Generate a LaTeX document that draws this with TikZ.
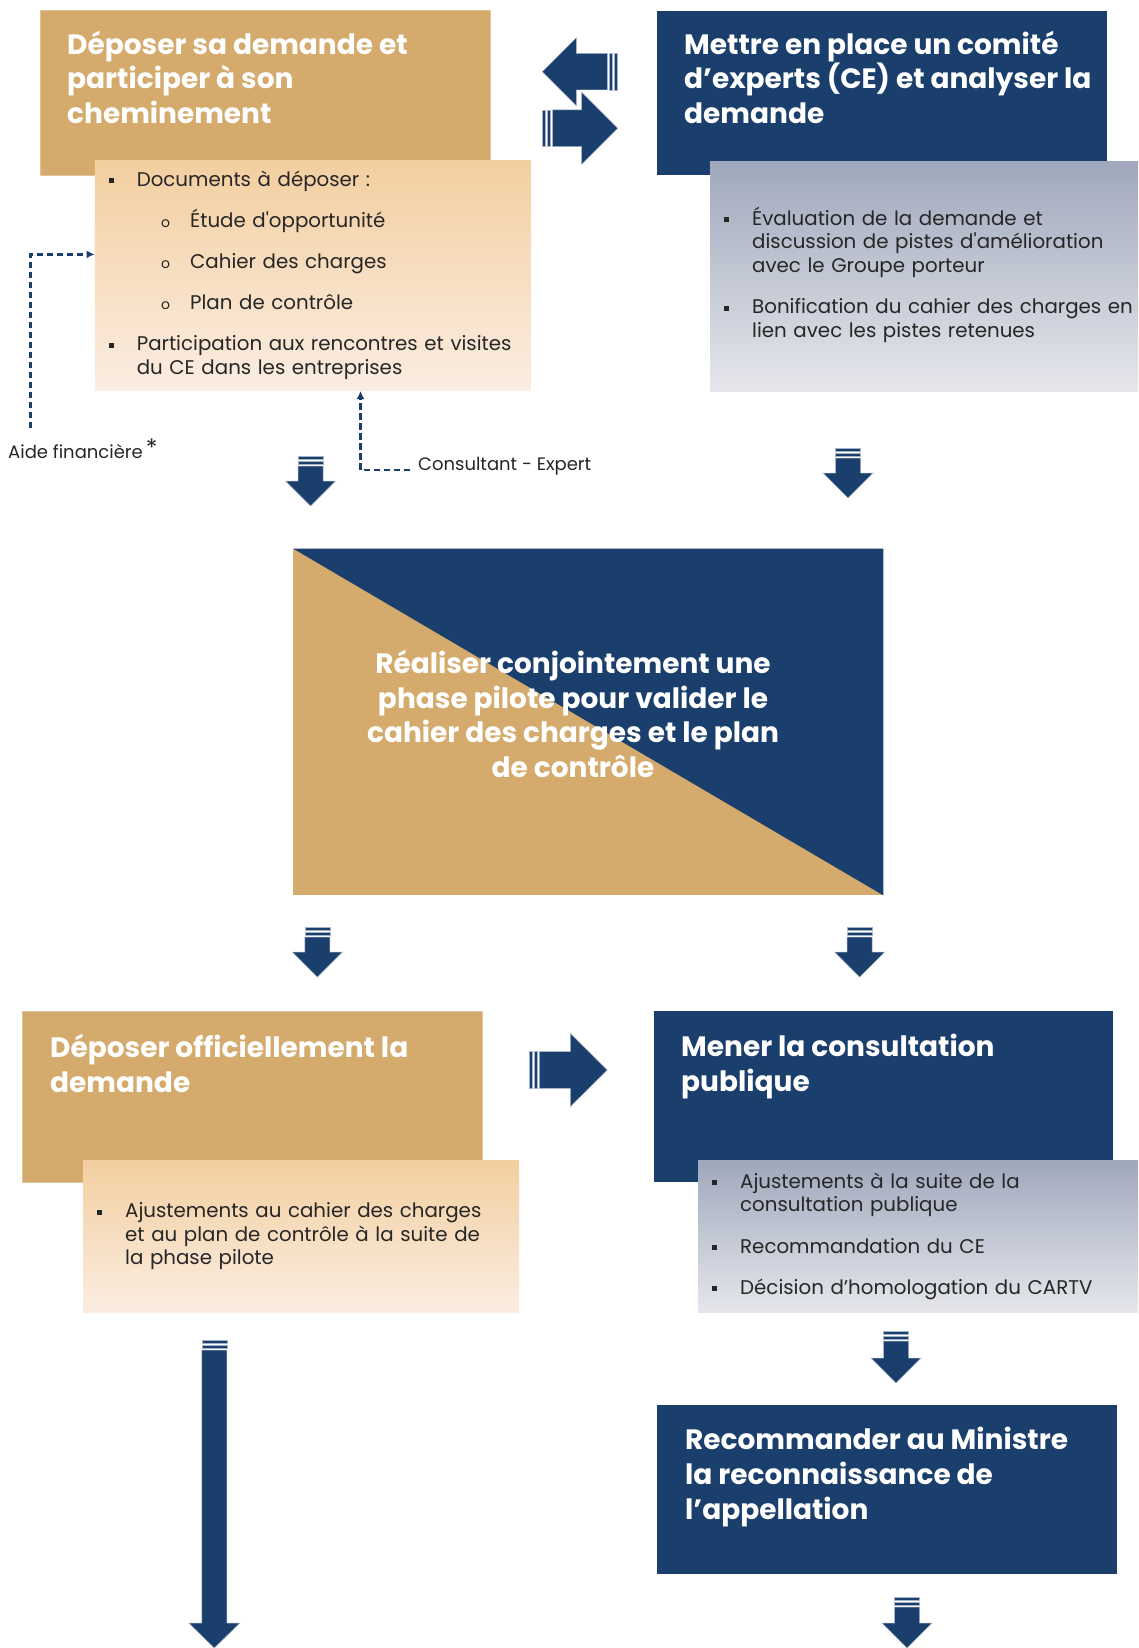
\documentclass[tikz,border=0pt]{standalone}
\usepackage{fontspec}
\setmainfont{Poppins}
\usepackage{enumitem}
\usetikzlibrary{positioning,arrows.meta}

\definecolor{navy}{HTML}{1B3F6D}
\definecolor{tan}{HTML}{D4AA6D}
\definecolor{peachtop}{HTML}{F3CFA0}
\definecolor{peachbot}{HTML}{FBEDE2}
\definecolor{greytop}{HTML}{9FA8BC}
\definecolor{greybot}{HTML}{E6E7EC}
\definecolor{bodytext}{HTML}{262626}

\newcommand{\sqbullet}{\rule[3pt]{5pt}{5pt}}
\newcommand{\circbullet}{{\fontsize{14}{14}\selectfont o}}
\newcommand{\liftlist}{\par\vspace*{9pt}}

\setlist[itemize]{nosep,itemsep=17.5pt,align=left}
\setlist[itemize,1]{label=\sqbullet,leftmargin=30pt,labelwidth=5pt,labelsep=23pt}
\setlist[itemize,2]{label=\circbullet,leftmargin=51.4pt,labelwidth=7pt,labelsep=20pt,topsep=17.5pt}

\tikzset{
  tanbox/.style={fill=tan,draw=tan!70!white,anchor=north west,inner sep=0pt},
  navybox/.style={fill=navy,anchor=north west,inner sep=0pt},
  title/.style={text=white,font=\fontsize{28}{34.7}\selectfont\bfseries,align=left,anchor=north west,inner sep=0pt},
  peachlist/.style={top color=peachtop,bottom color=peachbot,anchor=north west,
    inner xsep=12pt,inner ysep=0pt,align=left,text=bodytext,font=\fontsize{19.8}{23.6}\selectfont},
  greylist/.style={peachlist,top color=greytop,bottom color=greybot},
  note/.style={text=bodytext,font=\fontsize{18}{22}\selectfont,inner sep=0pt,anchor=west},
  link/.style={navy,line width=2.5pt,dash pattern=on 6.5pt off 3.5pt,-{Latex[length=8pt,width=8pt]}},
  pics/stripedarrow/.style n args={4}{code={
    \filldraw[navy,draw=navy!40!white,line width=0.5pt] (0,-#2) rectangle (3,#2);
    \filldraw[navy,draw=navy!40!white,line width=0.5pt] (5,-#2) rectangle (8,#2);
    \filldraw[navy,draw=navy!40!white,line width=0.5pt] (10,-#2) -- ({#1-#4},-#2) -- ({#1-#4},-#3)
      -- (#1,0) -- ({#1-#4},#3) -- ({#1-#4},#2) -- (10,#2) -- cycle;
  }}
}

\begin{document}
\begin{tikzpicture}[x=1pt,y=-1pt]
\useasboundingbox[fill=white] (0,0) rectangle (1138,1648);

% first row
\node[tanbox,minimum width=450pt,minimum height=164.5pt] (depot) at (40,10.5) {};
\node[title] (depottxt) at ([xshift=27pt,yshift=-20pt]depot.north west) {Déposer sa demande et\\participer à son\\cheminement};
\node[peachlist,minimum width=436pt,minimum height=230pt,text width=412pt,below right=-15pt and 54.6pt of depot.south west] (docs) {%
  \begin{itemize}
  \item Documents à déposer :
    \begin{itemize}
    \item Étude d\textquotesingle opportunité
    \item Cahier des charges
    \item Plan de contrôle
    \end{itemize}
  \item Participation aux rencontres et visites\newline du CE dans les entreprises
  \end{itemize}\liftlist};

\node[navybox,minimum width=450pt,minimum height=164pt] (comite) at (657,10.5) {};
\node[title] (comitetxt) at ([xshift=27pt,yshift=-20pt]comite.north west) {Mettre en place un comité\\d’experts (CE) et analyser la\\demande};
\node[greylist,minimum width=428pt,minimum height=230pt,text width=404pt,below right=-13.5pt and 53pt of comite.south west] (analyse) {%
  \begin{itemize}
  \item Évaluation de la demande et\newline discussion de pistes d\textquotesingle amélioration\newline avec le Groupe porteur
  \item \makebox[\linewidth][l]{Bonification du cahier des charges en}\newline lien avec les pistes retenues
  \end{itemize}\liftlist};

\pic[rotate=180] (back) at (617.3,71.7) {stripedarrow={75}{18.3}{34}{34}};
\pic (forth) at (542.7,128.3) {stripedarrow={75}{18.3}{36}{36}};

% helpers
\node[note] (aide) at (8,449) {Aide financière\,\raisebox{2pt}{\fontsize{24}{24}\selectfont *}};
\node[note] (consult) at (418,466) {Consultant - Expert};
\coordinate (aidefoot) at (30.5,428);
\coordinate (aidein) at ([yshift=-94pt]docs.north west);
\coordinate (consultin) at (360.5,391);
\draw[link] (aidefoot) |- (aidein);
\draw[link] ([xshift=-8pt,yshift=-4pt]consult.west) -| (consultin);

\pic[rotate=-90] (down1) at (310.5,456) {stripedarrow={50}{12.5}{25}{25}};
\pic[rotate=-90] (down2) at (848,448) {stripedarrow={50}{12.5}{25}{25}};

% pilot phase
\node[fill=tan,anchor=north west,inner sep=0pt,minimum width=590pt,minimum height=346.5pt] (pilote) at (293,548.5) {};
\fill[navy] (pilote.north west) -- (pilote.north east) -- (pilote.south east) -- cycle;
\node[title,anchor=center,align=center] (pilotetxt) at (573,714) {Réaliser conjointement une\\phase pilote pour valider le\\cahier des charges et le plan\\de contrôle};

\pic[rotate=-90] (down3) at (317.4,927) {stripedarrow={50}{12.5}{25}{25}};
\pic[rotate=-90] (down4) at (859.6,927) {stripedarrow={50}{12.5}{25}{25}};

% third row
\node[tanbox,minimum width=460pt,minimum height=171pt] (officiel) at (22,1011) {};
\node[title] (officieltxt) at ([xshift=28pt,yshift=-23pt]officiel.north west) {Déposer officiellement la\\demande};
\node[peachlist,minimum width=436pt,minimum height=152pt,text width=412pt,below right=-22pt and 61pt of officiel.south west] (ajust) {%
  \begin{itemize}
  \item Ajustements au cahier des charges\newline et au plan de contrôle à la suite de\newline la phase pilote
  \end{itemize}\liftlist};

\pic (forth2) at (529.3,1070) {stripedarrow={78}{18.3}{36.7}{37}};

\node[navybox,minimum width=459.4pt,minimum height=171pt] (consultation) at (653.6,1011) {};
\node[title] (consultationtxt) at ([xshift=27.4pt,yshift=-23pt]consultation.north west) {Mener la consultation\\publique};
\node[greylist,minimum width=440pt,minimum height=152pt,text width=416pt,below right=-22pt and 44.4pt of consultation.south west] (decision) {%
  \begin{itemize}
  \item Ajustements à la suite de la\newline consultation publique
  \item Recommandation du CE
  \item Décision d’homologation du CARTV
  \end{itemize}\liftlist};

\pic[rotate=-90] (down5) at (896,1331) {stripedarrow={52}{12.5}{25}{25}};

% last row
\node[navybox,minimum width=460pt,minimum height=169pt] (ministre) at (657,1405) {};
\node[title] (ministretxt) at ([xshift=28pt,yshift=-22pt]ministre.north west) {Recommander au Ministre\\la reconnaissance de\\l’appellation};

\pic[rotate=-90] (down6) at (907,1597) {stripedarrow={51}{12.5}{25}{25}};
\pic[rotate=-90] (longdown) at (214.3,1340) {stripedarrow={308}{12.5}{25.5}{25}};
\end{tikzpicture}
\end{document}
